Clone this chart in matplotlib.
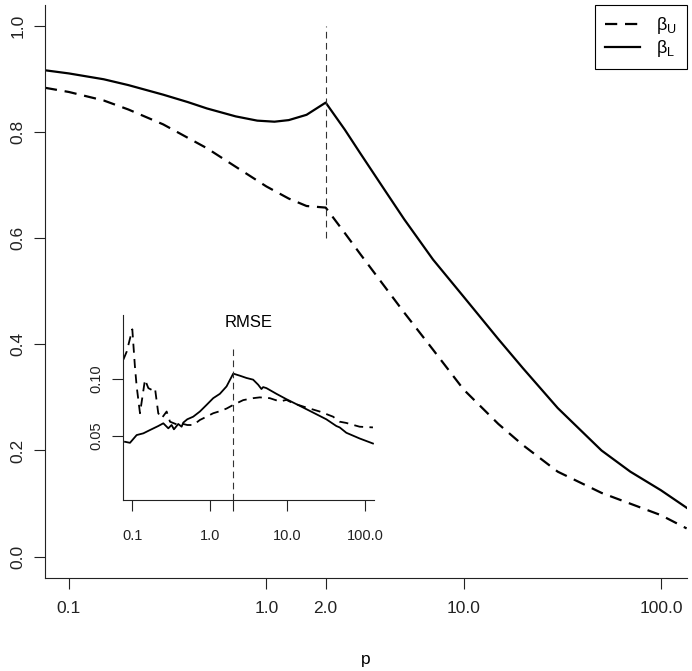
import matplotlib
matplotlib.use("Agg")
import matplotlib.pyplot as plt

plt.rcParams["font.family"] = ["Liberation Sans", "DejaVu Sans"]
plt.rcParams["mathtext.fontset"] = "custom"
plt.rcParams["mathtext.rm"] = "Liberation Sans"
plt.rcParams["mathtext.it"] = "Liberation Sans"
plt.rcParams["mathtext.default"] = "regular"

# main panel: beta_L (solid) and beta_U (dashed) vs p
p_L = [0.0755, 0.1, 0.15, 0.2, 0.3, 0.4, 0.5, 0.7, 0.9, 1.1, 1.3, 1.6, 2.0,
       2.5, 3, 4, 5, 7, 10, 15, 20, 30, 50, 70, 100, 135]
beta_L = [0.917, 0.911, 0.900, 0.889, 0.871, 0.857, 0.845, 0.830, 0.822, 0.820,
          0.823, 0.833, 0.856, 0.805, 0.76, 0.69, 0.636, 0.56, 0.49, 0.41,
          0.355, 0.28, 0.20, 0.16, 0.125, 0.092]
p_U = [0.0755, 0.1, 0.15, 0.2, 0.3, 0.5, 0.7, 1.0, 1.3, 1.6, 2.0, 2.5, 3, 5,
       7, 10, 15, 20, 30, 50, 100, 135]
beta_U = [0.884, 0.876, 0.860, 0.843, 0.815, 0.77, 0.735, 0.698, 0.675, 0.661,
          0.658, 0.61, 0.57, 0.46, 0.39, 0.315, 0.25, 0.21, 0.16, 0.12, 0.078,
          0.053]

# inset: RMSE
rp_L = [0.0805, 0.0933, 0.1138, 0.1387, 0.169, 0.216, 0.251, 0.291, 0.321,
        0.344, 0.391, 0.432, 0.454, 0.511, 0.610, 0.743, 0.906, 1.104, 1.345,
        1.64, 2.0, 2.43, 2.96, 3.61, 4.19, 4.62, 4.86, 5.36, 7.21, 9.70, 14.4,
        21.4, 31.7, 42.7, 47.1, 57.4, 85.2, 126.5]
rmse_L = [0.0450, 0.0441, 0.0509, 0.0524, 0.0553, 0.0588, 0.0612, 0.0568,
          0.0597, 0.0559, 0.0606, 0.0582, 0.0618, 0.0647, 0.0670, 0.0715,
          0.0773, 0.0832, 0.0870, 0.0935, 0.1047, 0.1029, 0.1009, 0.0994,
          0.0950, 0.0912, 0.0929, 0.0920, 0.0870, 0.0823, 0.0765, 0.0706,
          0.0647, 0.0588, 0.0576, 0.0529, 0.0479, 0.0435]
rp_U = [0.0767, 0.0847, 0.1, 0.108, 0.1138, 0.1256, 0.1456, 0.161, 0.1775,
        0.196, 0.216, 0.239, 0.277, 0.306, 0.344, 0.391, 0.454, 0.511, 0.610,
        0.743, 0.906, 1.104, 1.345, 1.64, 2.0, 2.69, 3.61, 4.40, 5.92, 7.96,
        9.70, 11.8, 17.5, 26.1, 38.7, 47.1, 57.4, 85.2, 126.5]
rmse_U = [0.117, 0.124, 0.1435, 0.1111, 0.0935, 0.0700, 0.0994, 0.0920,
          0.0905, 0.0920, 0.0700, 0.0656, 0.0715, 0.0626, 0.0612, 0.0597,
          0.0606, 0.0597, 0.0597, 0.0641, 0.0670, 0.0700, 0.0718, 0.0741,
          0.0773, 0.0815, 0.0832, 0.0839, 0.0832, 0.0803, 0.0817, 0.0788,
          0.0750, 0.0715, 0.0670, 0.0626, 0.0615, 0.0582, 0.0576]

p_cut = 2.0
x_ticks = [0.1, 1.0, 2.0, 10.0, 100.0]
x_labels = ["0.1", "1.0", "2.0", "10.0", "100.0"]
inset_xlabels = ["0.1", "1.0", "", "10.0", "100.0"]
y_ticks = [0.0, 0.2, 0.4, 0.6, 0.8, 1.0]
inset_yticks = [0.05, 0.10]


def r_style(ax, size):
    for s in ("top", "right"):
        ax.spines[s].set_visible(False)
    for s in ("left", "bottom"):
        ax.spines[s].set_linewidth(0.8)
        ax.spines[s].set_color("#222222")
    ax.tick_params(direction="out", length=8, width=0.8, color="#222222",
                   labelsize=size, labelcolor="#222222")
    ax.set_xscale("log")
    ax.minorticks_off()


fig = plt.figure(figsize=(6.92, 6.71), dpi=100)
ax = fig.add_axes([0.065, 0.139, 0.9277, 0.8535])
r_style(ax, 12.5)

ax.plot(p_U, beta_U, color="black", lw=1.6, dashes=(5.5, 3.5),
        label=r"$\beta_U$")
ax.plot(p_L, beta_L, color="black", lw=1.6, label=r"$\beta_L$")
ax.plot([p_cut, p_cut], [0.6, 1.0], color="#333333", lw=0.8, dashes=(6, 4))

ax.set_xlim(10 ** -1.1216, 10 ** 2.132)
ax.set_ylim(-0.04, 1.04)
ax.set_xticks(x_ticks)
ax.set_xticklabels(x_labels)
ax.set_yticks(y_ticks)
ax.set_yticklabels([f"{v:.1f}" for v in y_ticks], rotation=90, va="center")
ax.tick_params(axis="x", pad=9)
ax.tick_params(axis="y", pad=6)
ax.set_xlabel("p", fontsize=12.5, labelpad=26)

leg = ax.legend(loc="upper right", bbox_to_anchor=(1.0, 1.0),
                borderaxespad=0, fancybox=False, framealpha=1,
                edgecolor="black", fontsize=13, handlelength=1.95,
                handletextpad=0.9, borderpad=0.55, labelspacing=0.12)
leg.get_frame().set_linewidth(0.8)

# inset
ins = fig.add_axes([0.1782, 0.2548, 0.3623, 0.2757])
r_style(ins, 10.5)
ins.patch.set_alpha(0)
ins.plot(rp_U, rmse_U, color="black", lw=1.3, dashes=(5, 3.5))
ins.plot(rp_L, rmse_L, color="black", lw=1.3)
ins.plot([p_cut, p_cut], [-0.006, 0.126], color="#333333", lw=0.8,
         dashes=(6, 4))
ins.set_xlim(10 ** -1.116, 10 ** 2.116)
ins.set_ylim(-0.006, 0.156)
ins.set_xticks(x_ticks)
ins.set_xticklabels(inset_xlabels)
ins.set_yticks(inset_yticks)
ins.set_yticklabels(["0.05", "0.10"], rotation=90, va="center")
ins.tick_params(length=8)
ins.tick_params(axis="x", pad=13)
ins.tick_params(axis="y", pad=6)
ins.text(0.5, 0.962, "RMSE", transform=ins.transAxes, ha="center",
         va="center", fontsize=12)

fig.savefig("out.png", dpi=100)
